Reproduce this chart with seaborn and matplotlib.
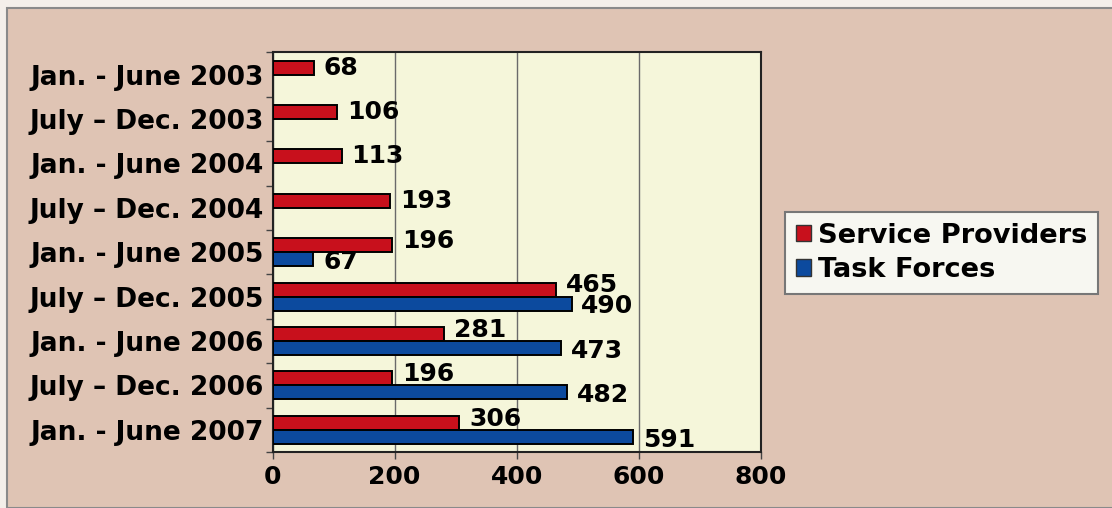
import numpy as np
import pandas as pd
import matplotlib
matplotlib.use("Agg")
import matplotlib.pyplot as plt
import seaborn as sns
from matplotlib.patches import Rectangle, Patch

periods = ["Jan. - June 2003", "July \u2013 Dec. 2003", "Jan. - June 2004", "July \u2013 Dec. 2004",
           "Jan. - June 2005", "July \u2013 Dec. 2005", "Jan. - June 2006", "July \u2013 Dec. 2006",
           "Jan. - June 2007"]
service_providers = [68, 106, 113, 193, 196, 465, 281, 196, 306]
task_forces = [np.nan, np.nan, np.nan, np.nan, 67, 490, 473, 482, 591]
series_names = ["Service Providers", "Task Forces"]
x_ticks = [0, 200, 400, 600, 800]

df = pd.DataFrame({
    "period": periods * 2,
    "value": service_providers + task_forces,
    "series": [series_names[0]] * len(periods) + [series_names[1]] * len(periods),
})

sns.set_theme(style="white")
plt.rcParams['font.family'] = ['DejaVu Sans']
plt.rcParams['text.color'] = 'black'
plt.rcParams['xtick.color'] = 'black'
plt.rcParams['ytick.color'] = 'black'

red = "#c8101c"
blue = "#0c4a9e"
bg = "#dfc4b4"
plot_bg = "#f5f6da"
FS = 18

fig = plt.figure(figsize=(11.12, 5.08), dpi=100)
fig.patch.set_facecolor("#f4efea")
fig.patches.append(Rectangle((7/1112, 0), 1.0, 1 - 8/508, transform=fig.transFigure,
                             facecolor=bg, edgecolor="#8a8a8a", linewidth=1.5, zorder=-1))

ax = fig.add_axes([272.5/1112, 1 - 452/508, (761 - 272.5)/1112, (452 - 52.5)/508])
ax.set_facecolor(plot_bg)

sns.barplot(data=df, y="period", x="value", hue="series", order=periods,
            hue_order=series_names, palette=[red, blue], saturation=1, orient="h", width=0.63,
            edgecolor="black", linewidth=1.4, errorbar=None, ax=ax, zorder=3)

for ci, cont in enumerate(ax.containers):
    for b in cont:
        w = b.get_width()
        if w is None or np.isnan(w) or w == 0:
            continue
        yc = b.get_y() + b.get_height() / 2
        idx = int(round(yc))
        both = not np.isnan(task_forces[idx])
        if ci == 0:
            dy = 3 if both else 0
        else:
            dy = -2
        ax.annotate(f"{w:.0f}", xy=(w, yc), xytext=(7, dy), textcoords="offset points",
                    ha="left", va="center", fontsize=FS, fontweight="bold", color="black",
                    zorder=5)

ax.set_xlim(0, 800)
ax.set_ylim(len(periods) - 0.5, -0.5)
ax.set_xticks(x_ticks)
ax.set_xticklabels([str(t) for t in x_ticks], fontsize=FS, fontweight="bold")
ax.tick_params(axis="x", direction="out", length=5, width=1, color="#444444", pad=4, bottom=True)
ax.tick_params(axis="y", which="major", length=0, pad=6, labelsize=19)
for lab in ax.get_yticklabels():
    lab.set_fontweight("bold")
ax.set_yticks(np.arange(-0.5, len(periods), 1.0), minor=True)
ax.tick_params(axis="y", which="minor", direction="out", length=5, width=1, color="#444444", left=True)
ax.set_xlabel("")
ax.set_ylabel("")
ax.xaxis.grid(True, color="#6a6a6a", linewidth=1.0, zorder=0)
ax.set_axisbelow(True)
for s in ax.spines.values():
    s.set_visible(True)
    s.set_color("#222222")
    s.set_linewidth(1.5)

if ax.legend_ is not None:
    ax.legend_.remove()
handles = [Patch(facecolor=red, edgecolor="#333333"), Patch(facecolor=blue, edgecolor="#333333")]
fleg = fig.legend(handles, series_names, loc="upper left",
                  bbox_to_anchor=(785/1112, 1 - 212/508), frameon=True, fancybox=False,
                  handlelength=0.55, handleheight=0.55, handletextpad=0.25, borderpad=0.4,
                  labelspacing=0.3, borderaxespad=0, prop={"weight": "bold", "size": 19.6})
fleg.get_frame().set_facecolor("#f7f7f1")
fleg.get_frame().set_edgecolor("#777777")
fleg.get_frame().set_linewidth(1.5)
fleg.get_frame().set_alpha(1)

fig.savefig("out.png", dpi=100, facecolor=fig.get_facecolor())
